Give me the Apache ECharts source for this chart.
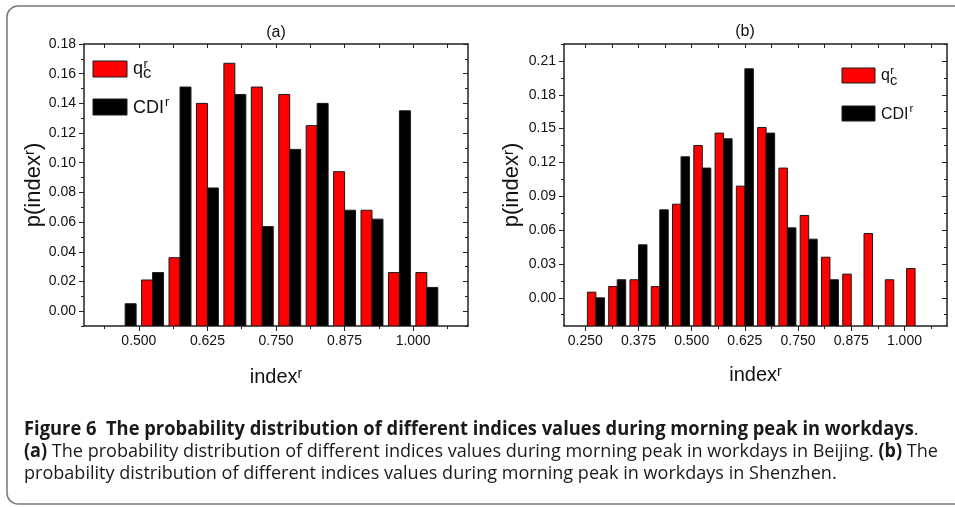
<!DOCTYPE html>
<html>
<head>
<meta charset="utf-8">
<script src="https://cdn.jsdelivr.net/npm/echarts@6/dist/echarts.min.js"></script>
<style>
  html, body { margin: 0; padding: 0; background: #fff; }
  #chart { width: 955px; height: 507px; }
</style>
</head>
<body>
<div id="chart"></div>
<script>
// ---- (a) Beijing: bin centres and probabilities ----
const binsA = [0.475, 0.525, 0.575, 0.625, 0.675, 0.725, 0.775, 0.825, 0.875, 0.925, 0.975, 1.025];
const qcA   = [null,  0.021, 0.036, 0.140, 0.167, 0.151, 0.146, 0.125, 0.094, 0.068, 0.026, 0.026];
const cdiA  = [0.005, 0.026, 0.151, 0.083, 0.146, 0.057, 0.109, 0.140, 0.068, 0.062, 0.135, 0.016];

// ---- (b) Shenzhen: bin centres and probabilities ----
const binsB = [0.275, 0.325, 0.375, 0.425, 0.475, 0.525, 0.575, 0.625, 0.675, 0.725, 0.775, 0.825, 0.875, 0.925, 0.975, 1.025];
const qcB   = [0.005, 0.010, 0.016, 0.010, 0.083, 0.135, 0.146, 0.099, 0.151, 0.115, 0.073, 0.036, 0.021, 0.057, 0.016, 0.026];
const cdiB  = [0.000, 0.016, 0.047, 0.078, 0.125, 0.115, 0.141, 0.203, 0.146, 0.062, 0.052, 0.016, null,  null,  null,  null];

// ---- tick labels ----
const xTicksA = [0.500, 0.625, 0.750, 0.875, 1.000];
const yTicksA = [0.00, 0.02, 0.04, 0.06, 0.08, 0.10, 0.12, 0.14, 0.16, 0.18];
const xTicksB = [0.250, 0.375, 0.500, 0.625, 0.750, 0.875, 1.000];
const yTicksB = [0.00, 0.03, 0.06, 0.09, 0.12, 0.15, 0.18, 0.21];

const RED = '#ff0000';
const BLACK = '#000000';
const AXIS = '#222';
const FONT = '"Liberation Sans", Arial, sans-serif';
const CAP_FONT = '"Open Sans", sans-serif';
const BAR_W = 0.02;   // width of one bar in index units

// minor ticks halfway between major ones (plus one step beyond each end)
function halfSteps(ticks) {
  const step = ticks[1] - ticks[0];
  const out = [];
  for (let i = -1; i < ticks.length; i++) out.push(+(ticks[0] + (i + 0.5) * step).toFixed(4));
  return out;
}

function nameStyle(size) {
  return {
    fontSize: size, fontFamily: FONT, color: '#111',
    rich: { sup: { fontSize: Math.round(size * 0.7), fontFamily: FONT, color: '#111', verticalAlign: 'top' } }
  };
}

function xAxesFor(grid, min, max, majors, nameGap) {
  const minors = halfSteps(majors);
  const line = { color: AXIS, width: 1.5 };
  return [
    { type: 'value', gridIndex: grid, min, max, position: 'bottom',
      name: 'index{sup|r}', nameLocation: 'middle', nameGap, nameTextStyle: nameStyle(20),
      axisLine: { show: true, onZero: false, lineStyle: line },
      axisTick: { show: true, inside: false, length: 5, customValues: majors, lineStyle: { color: AXIS, width: 1 } },
      axisLabel: { show: true, customValues: majors, margin: 8, fontSize: 14, fontFamily: FONT, color: '#111',
                   formatter: v => v.toFixed(3) },
      splitLine: { show: false } },
    { type: 'value', gridIndex: grid, min, max, position: 'bottom',
      axisLine: { show: false, onZero: false },
      axisTick: { show: true, inside: false, length: 3, customValues: minors, lineStyle: { color: AXIS, width: 1 } },
      axisLabel: { show: false }, splitLine: { show: false } },
    { type: 'value', gridIndex: grid, min, max, position: 'top',
      axisLine: { show: true, onZero: false, lineStyle: line },
      axisTick: { show: true, inside: true, length: 4, customValues: majors.concat(minors), lineStyle: { color: AXIS, width: 1 } },
      axisLabel: { show: false }, splitLine: { show: false } }
  ];
}

function yAxesFor(grid, min, max, majors, nameGap) {
  const minors = halfSteps(majors);
  const line = { color: AXIS, width: 1.5 };
  return [
    { type: 'value', gridIndex: grid, min, max, position: 'left',
      name: 'p(index{sup|r})', nameLocation: 'middle', nameGap, nameTextStyle: nameStyle(22),
      axisLine: { show: true, onZero: false, lineStyle: line },
      axisTick: { show: true, inside: false, length: 5, customValues: majors, lineStyle: { color: AXIS, width: 1 } },
      axisLabel: { show: true, customValues: majors, margin: 8, fontSize: 14, fontFamily: FONT, color: '#111',
                   formatter: v => v.toFixed(2) },
      splitLine: { show: false } },
    { type: 'value', gridIndex: grid, min, max, position: 'left',
      axisLine: { show: false, onZero: false },
      axisTick: { show: true, inside: false, length: 3, customValues: minors, lineStyle: { color: AXIS, width: 1 } },
      axisLabel: { show: false }, splitLine: { show: false } },
    { type: 'value', gridIndex: grid, min, max, position: 'right',
      axisLine: { show: true, onZero: false, lineStyle: line },
      axisTick: { show: true, inside: true, length: 5, customValues: majors, lineStyle: { color: AXIS, width: 1 } },
      axisLabel: { show: false }, splitLine: { show: false } },
    { type: 'value', gridIndex: grid, min, max, position: 'right',
      axisLine: { show: false, onZero: false },
      axisTick: { show: true, inside: true, length: 3, customValues: minors, lineStyle: { color: AXIS, width: 1 } },
      axisLabel: { show: false }, splitLine: { show: false } }
  ];
}

// one bar per bin, drawn from the bottom of the value axis up to its value
function barSeries(name, xIdx, yIdx, bins, vals, offset, color, floor) {
  const data = [];
  bins.forEach((b, i) => { if (vals[i] !== null) data.push([b, vals[i]]); });
  return {
    name, type: 'custom', xAxisIndex: xIdx, yAxisIndex: yIdx, clip: true,
    encode: { x: 0, y: 1 },
    data,
    renderItem: (params, api) => {
      const c = api.value(0), v = api.value(1);
      const tl = api.coord([c + offset, v]);
      const br = api.coord([c + offset + BAR_W, floor]);
      return {
        type: 'rect',
        shape: { x: tl[0], y: tl[1], width: br[0] - tl[0], height: br[1] - tl[1] },
        style: { fill: color, stroke: '#1a1a1a', lineWidth: 1 }
      };
    }
  };
}

const Y_MIN_A = -0.01, Y_MAX_A = 0.18;
const Y_MIN_B = -0.025, Y_MAX_B = 0.225;

const xAxes = xAxesFor(0, 0.4, 1.1, xTicksA, 41).concat(xAxesFor(1, 0.2, 1.1, xTicksB, 39));
const yAxes = yAxesFor(0, Y_MIN_A, Y_MAX_A, yTicksA, 38).concat(yAxesFor(1, Y_MIN_B, Y_MAX_B, yTicksB, 41));

// legend swatches and labels (q_c^r / CDI^r) for one panel
function legendGroup(x, y1, y2, w, h, fs) {
  const t = (txt, tx, ty, size) => ({
    type: 'text', x: tx, y: ty,
    style: { text: txt, fontSize: size, fontFamily: FONT, fill: '#111', verticalAlign: 'bottom' }
  });
  const tx = x + w + 6;
  return [
    { type: 'rect', shape: { x, y: y1, width: w, height: h }, style: { fill: RED, stroke: '#1a1a1a', lineWidth: 1 } },
    { type: 'rect', shape: { x, y: y2, width: w, height: h }, style: { fill: BLACK, stroke: '#1a1a1a', lineWidth: 1 } },
    t('q', tx, y1 + h + 1, fs),
    t('c', tx + fs * 0.56, y1 + h + 5, fs * 0.92),
    t('r', tx + fs * 0.58, y1 + h - 6, fs * 0.72),
    t('CDI', tx, y2 + h + 2, fs),
    t('r', tx + fs * 1.72 + 1, y2 + h - 6, fs * 0.72)
  ];
}

const captionRich = {
  b: { fontWeight: 'bold', fontSize: 19, fontFamily: CAP_FONT, fill: '#1a1a1a' },
  n: { fontWeight: 'normal', fontSize: 19, fontFamily: CAP_FONT, fill: '#1a1a1a' }
};
function captionLine(text, y, sx) {
  return { type: 'text', x: 24, y, scaleX: sx,
           style: { text, rich: captionRich, fontSize: 19, fontFamily: CAP_FONT, fill: '#1a1a1a', verticalAlign: 'bottom' } };
}

const option = {
  backgroundColor: '#fff',
  animation: false,
  grid: [
    { left: 84, top: 44, width: 384, height: 282, containLabel: false },
    { left: 564, top: 44, width: 383, height: 282, containLabel: false }
  ],
  xAxis: xAxes,
  yAxis: yAxes,
  series: [
    barSeries('q_c^r (a)', 0, 0, binsA, qcA, -BAR_W, RED, Y_MIN_A),
    barSeries('CDI^r (a)', 0, 0, binsA, cdiA, 0, BLACK, Y_MIN_A),
    barSeries('q_c^r (b)', 3, 4, binsB, qcB, -BAR_W, RED, Y_MIN_B),
    barSeries('CDI^r (b)', 3, 4, binsB, cdiB, 0, BLACK, Y_MIN_B)
  ],
  graphic: [
    // rounded figure frame
    { type: 'rect', shape: { x: 7, y: 6, width: 970, height: 498, r: 11 },
      style: { fill: 'none', stroke: '#777', lineWidth: 1.5 }, silent: true },
    // panel titles
    { type: 'text', x: 276, y: 33, style: { text: '(a)', fontSize: 16, fontFamily: FONT, fill: '#111', align: 'center', verticalAlign: 'middle' } },
    { type: 'text', x: 745, y: 32, style: { text: '(b)', fontSize: 16, fontFamily: FONT, fill: '#111', align: 'center', verticalAlign: 'middle' } },
    ...legendGroup(93, 61, 99, 34, 16, 18),
    ...legendGroup(842, 68, 106, 33, 15, 16),
    captionLine('{b|Figure 6  The probability distribution of different indices values during morning peak in workdays}{n|.}', 439, 0.965),
    captionLine('{b|(a)}{n| The probability distribution of different indices values during morning peak in workdays in Beijing. }{b|(b)}{n| The}', 461, 0.95),
    captionLine('{n|probability distribution of different indices values during morning peak in workdays in Shenzhen.}', 483, 0.95)
  ]
};

const chart = echarts.init(document.getElementById('chart'), null, { renderer: 'canvas' });
chart.setOption(option);
</script>
</body>
</html>
